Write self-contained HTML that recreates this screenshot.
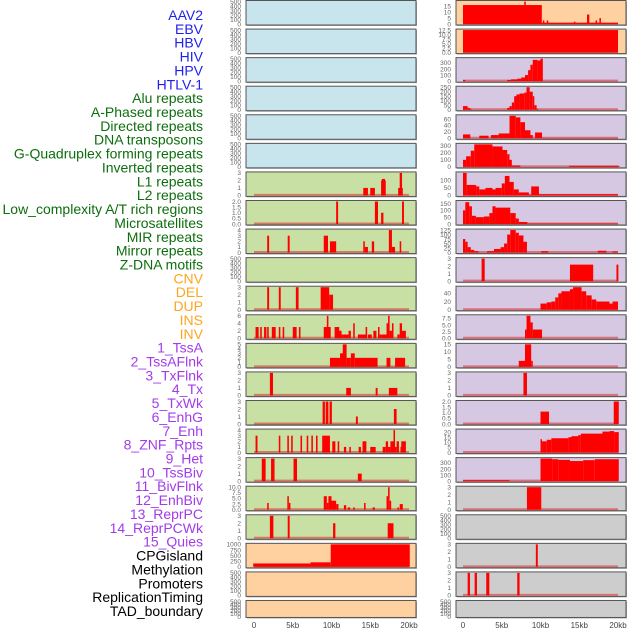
<!DOCTYPE html>
<html><head><meta charset="utf-8">
<style>
html,body{margin:0;padding:0;background:#fff;}
svg{display:block;font-family:"Liberation Sans",sans-serif;}
</style></head>
<body>
<svg id="chart" width="630" height="630" viewBox="0 0 630 630"></svg>
<script>
const labels = ["AAV2","EBV","HBV","HIV","HPV","HTLV-1","Alu repeats","A-Phased repeats","Directed repeats","DNA transposons","G-Quadruplex forming repeats","Inverted repeats","L1 repeats","L2 repeats","Low_complexity A/T rich regions","Microsatellites","MIR repeats","Mirror repeats","Z-DNA motifs","CNV","DEL","DUP","INS","INV","1_TssA","2_TssAFlnk","3_TxFlnk","4_Tx","5_TxWk","6_EnhG","7_Enh","8_ZNF_Rpts","9_Het","10_TssBiv","11_BivFlnk","12_EnhBiv","13_ReprPC","14_ReprPCWk","15_Quies","CPGisland","Methylation","Promoters","ReplicationTiming","TAD_boundary"];
const labelColors = [];
for (let i=0;i<labels.length;i++){labelColors.push(i<6?"#1f1fef":i<19?"#0d6e0d":i<24?"#ffa51f":i<39?"#a23bea":"#000000");}
const xTicks = [0,5,10,15,20];
const xTickLabels = ["0","5kb","10kb","15kb","20kb"];

const leftMax = [500,500,500,500,500,500,3,2,4,500,3,6,5,3,3,4,3,10,3,1000,500,500];
const leftTicks = [
 [0,100,200,300,400,500],[0,100,200,300,400,500],[0,100,200,300,400,500],[0,100,200,300,400,500],[0,100,200,300,400,500],[0,100,200,300,400,500],
 [0,1,2,3],[0,0.5,1,1.5,2],[0,1,2,3,4],[0,100,200,300,400,500],[0,1,2,3],[0,2,4,6],[0,1,2,3,4,5],[0,1,2,3],[0,1,2,3],[0,1,2,3,4],[0,1,2,3],[0,2.5,5,7.5,10],[0,1,2,3],[0,250,500,750,1000],[0,100,200,300,400,500],[0,100,200,300,400,500]];
const leftSegs = [
 [],[],[],[],[],[],
 [[14.1,14.7,1],[15.0,15.6,1],[16.4,17.0,2],[16.5,16.9,2.2],[18.6,19.2,1],[18.8,19.1,3]],
 [[10.6,10.85,2],[15.6,16.0,2],[16.4,16.7,1],[19.1,19.35,2]],
 [[1.7,1.95,3],[4.35,4.6,3],[9.0,9.55,3],[9.8,10.6,2],[14.1,14.3,2],[14.3,14.7,1],[15.2,15.5,2],[17.4,17.8,4],[17.8,18.2,1],[18.8,19.0,2]],
 [],
 [[1.7,1.95,3],[3.2,3.45,3],[5.4,5.75,3],[8.6,9.7,3],[9.7,10.2,2]],
 [[0.2,0.6,3],[0.8,1.0,3],[1.3,1.6,3],[1.7,1.9,3],[2.3,2.8,3],[3.2,3.4,3],[3.7,3.9,3],[5.0,5.5,3],[5.8,6.0,3],[9.0,9.9,3],[9.4,9.6,6],[10.4,11.0,3],[10.9,11.3,2],[11.3,11.6,1],[11.6,12.2,1],[12.2,12.5,2],[12.8,13.0,4],[13.4,14.5,1],[14.4,14.6,3],[14.7,15.2,1],[15.4,15.8,2],[16.0,16.2,3],[16.2,16.5,1],[16.5,17.1,1],[17.1,17.4,4],[17.3,17.5,6],[17.5,17.8,2],[17.8,18.0,4],[18.5,18.8,1],[18.8,19.1,4],[19.0,19.6,2]],
 [[9.8,11.1,2],[11.1,11.5,3],[11.45,11.95,5],[11.95,12.5,2],[12.5,13.0,3],[13.0,15.95,2],[17.1,17.6,2],[18.2,19.5,2]],
 [[2.05,2.45,3],[11.9,12.5,1],[15.7,15.95,1],[17.4,18.5,1]],
 [[8.85,9.15,3],[9.25,9.6,3],[9.75,10.05,3],[13.15,13.4,1],[18.05,18.4,2]],
 [[0.2,0.45,3],[3.2,3.4,3],[4.3,4.5,3],[4.8,5.0,3],[6.0,6.2,3],[6.8,7.0,3],[7.4,7.6,3],[8.0,8.2,3],[8.8,9.8,3],[10.1,10.5,2],[10.8,11.0,2],[11.6,11.9,1],[12.3,12.5,1],[13.5,13.8,1],[14.0,14.5,2],[15.0,15.7,1],[16.6,17.0,1],[17.0,17.3,2],[17.3,17.6,1],[17.6,18.0,2],[18.0,18.2,4],[18.2,18.4,1],[18.4,18.7,2],[18.9,19.0,1],[19.0,19.6,2]],
 [[1.0,1.5,3],[2.2,2.65,3],[5.1,5.55,3],[13.4,13.9,1]],
 [[1.7,1.9,3],[4.3,4.5,6],[4.5,4.7,3],[9.0,9.4,6],[9.4,9.6,3],[9.6,10.0,6],[10.0,10.6,4],[10.6,10.9,2.5],[11.6,11.9,2],[12.1,12.4,1],[12.8,13.0,1],[14.2,14.4,3],[15.3,15.6,1],[17.1,17.3,6],[17.3,17.5,10],[17.5,17.7,4],[18.5,18.7,1],[18.8,19.2,2.5]],
 [[2.05,2.5,3],[4.35,4.6,3],[10.2,10.5,2],[17.25,18.0,2]],
 [[-0.1,7.3,150],[7.3,9.9,200],[9.9,20.1,1000]],
 [],[]];
const leftBg = ["#c8e4ec","#c8e4ec","#c8e4ec","#c8e4ec","#c8e4ec","#c8e4ec","#c8e0a4","#c8e0a4","#c8e0a4","#c8e0a4","#c8e0a4","#c8e0a4","#c8e0a4","#c8e0a4","#c8e0a4","#c8e0a4","#c8e0a4","#c8e0a4","#c8e0a4","#ffd0a0","#ffd0a0","#ffd0a0"];

const rightMax = [19,12.5,370,250,70,320,150,165,125,3,55,8.5,15,3,2,22,370,3,500,3,3,500];
const rightTicks = [
 [0,5,10,15],[0,2.5,5,7.5,10,12.5],[0,100,200,300],[0,50,100,150,200,250],[0,20,40,60],[0,100,200,300],[0,50,100],[0,50,100,150],[0,25,50,75,100,125],[0,1,2,3],[0,20,40],[0,2.5,5,7.5],[0,5,10,15],[0,1,2,3],[0,0.5,1,1.5,2],[0,5,10,15,20],[0,100,200,300],[0,1,2,3],[0,100,200,300,400,500],[0,1,2,3],[0,1,2,3],[0,100,200,300,400,500]];
const rightSegs = [
 [[0,10.17,16],[7.9,8.1,19],[10.17,20,1],[10.3,10.5,3],[10.8,11.0,3],[14.3,14.5,2],[16.0,16.3,8],[17.1,17.3,3],[17.6,17.8,5]],
 [[0,20,12.5]],
 [[0,0.3,20],[5.7,6.2,20],[6.2,7.0,30],[7.0,7.5,40],[7.5,8.0,60],[8.0,8.4,100],[8.4,8.7,180],[8.7,9.0,270],[9.0,9.6,350],[9.6,10.0,340],[10.0,10.3,370]],
 [[0,0.6,40],[0.6,0.9,20],[0.9,1.1,10],[5.7,6.0,20],[6.0,6.3,40],[6.3,6.6,80],[6.6,6.9,150],[6.9,7.3,170],[7.3,7.9,180],[7.9,8.2,190],[8.2,8.6,250],[8.6,9.0,200],[9.0,9.2,150],[9.2,9.5,50],[9.5,9.7,10]],
 [[0,0.94,12],[2.1,3.3,8],[3.6,4.6,10],[4.6,6.0,15],[6.0,6.8,70],[6.8,7.4,65],[7.4,8.0,50],[8.0,8.7,25],[8.7,9.0,10],[9.3,10.2,18],[10.2,20,1]],
 [[0,0.4,100],[0.4,1.0,150],[1.0,1.45,230],[1.45,3.8,320],[3.8,5.1,290],[5.1,5.7,240],[5.7,6.0,180],[6.0,6.3,100],[6.3,7.4,20],[13.7,20.2,15]],
 [[0,0.47,150],[0.47,1.7,70],[1.7,2.1,60],[2.1,2.9,40],[2.9,3.8,50],[3.8,4.2,40],[4.2,5.0,50],[5.0,5.4,80],[5.4,6.0,130],[6.0,6.55,90],[6.55,7.2,40],[7.2,8.5,20],[8.5,8.8,5],[8.8,9.8,60],[9.8,20,8]],
 [[0,0.3,100],[0.3,0.8,160],[0.8,1.15,130],[1.15,1.66,60],[1.66,2.7,50],[2.7,3.4,55],[3.4,3.8,80],[3.8,4.2,130],[4.2,6.1,120],[6.1,6.8,80],[6.8,7.2,40],[7.2,8.3,15],[8.3,20,3]],
 [[0,0.3,75],[0.3,0.6,60],[0.6,1.0,30],[1.0,1.45,15],[1.45,2.0,8],[3.1,4.0,8],[4.0,4.85,20],[4.85,5.3,30],[5.3,5.7,50],[5.7,6.1,100],[6.1,6.8,125],[6.8,7.2,110],[7.2,7.8,95],[7.8,8.25,60],[10.1,11.0,8],[17.4,18.5,10],[19.3,19.96,6]],
 [[2.4,2.8,3],[13.8,16.8,2.2],[19.8,20.05,2.2]],
 [[10.0,10.8,15],[10.8,11.4,18],[11.4,11.9,20],[11.9,12.3,30],[12.3,12.7,40],[12.7,13.8,45],[13.8,14.2,50],[14.2,15.3,55],[15.3,15.9,45],[15.9,16.6,35],[16.6,17.2,25],[17.2,18.9,20],[18.9,19.3,15],[19.3,20,20]],
 [[8.0,8.2,3.3],[8.2,8.7,8.5],[8.7,9.0,6],[9.0,10.2,3.3]],
 [[7.2,8.0,4],[8.0,8.8,15],[8.8,9.0,4]],
 [[7.8,8.25,3]],
 [[10.0,11.1,1.1],[19.45,20.1,2]],
 [[10.0,10.2,13],[10.2,10.8,11],[10.8,11.4,12.5],[11.4,13.6,14],[13.6,14.0,15],[14.0,14.85,16],[14.85,15.2,17],[15.2,18.0,18.5],[18.0,18.9,20.5],[18.9,19.5,21],[19.5,20.1,20]],
 [[0,6.0,15],[10.0,11.5,370],[11.5,12.3,360],[12.3,13.8,350],[13.8,15.5,330],[15.5,17.0,345],[17.0,20.1,360]],
 [[8.25,10.1,3]],
 [],
 [[9.4,9.65,3]],
 [[0.6,0.9,3],[1.5,1.8,3],[3.0,3.4,3],[7.0,7.3,3]],
 []];
const rightBg = ["#ffd0a0","#ffd0a0","#d6c8e2","#d6c8e2","#d6c8e2","#d6c8e2","#d6c8e2","#d6c8e2","#d6c8e2","#d6c8e2","#d6c8e2","#d6c8e2","#d6c8e2","#d6c8e2","#d6c8e2","#d6c8e2","#d6c8e2","#cdcdcd","#cdcdcd","#cdcdcd","#cdcdcd","#cdcdcd"];

const NS="http://www.w3.org/2000/svg";
const svg=document.getElementById('chart');
function mk(tag,attrs,parent){const e=document.createElementNS(NS,tag);for(const k in attrs)e.setAttribute(k,attrs[k]);(parent||svg).appendChild(e);return e;}

labels.forEach((t,i)=>{
  const e=mk('text',{x:203,y:15+i*13.86+5,'text-anchor':'end','font-size':14,fill:labelColors[i]});
  
  
  e.textContent=t;
});

function rowTop(r){return r*28.57;}
function rowH(r){return r===21?17:24.5;}

function drawCol(side,x0,x1,zeroX,maxArr,ticksArr,segsArr,bgArr){
  const kbX=kb=>zeroX+kb*7.75;
  for(let r=0;r<22;r++){
    const top=rowTop(r)+0.5, h=rowH(r), bot=top+h;
    const g=mk('g',{});
    
    
    mk('rect',{x:x0+1,y:top+1,width:x1-x0,height:h,fill:'#aaa'},g);
    mk('rect',{x:x0,y:top,width:x1-x0,height:h,fill:bgArr[r],stroke:'#555','stroke-width':1},g);
    const yS=v=>bot-1-(v/maxArr[r])*(h-2);
    const frac=ticksArr[r].some(v=>v%1!==0);
    ticksArr[r].forEach(tv=>{
      const t=mk('text',{x:x0-5,y:yS(tv)+2.3,'text-anchor':'end','font-size':6.5,fill:'#666'},g);
      
      
      t.textContent=frac?tv.toFixed(1):String(tv);
    });
    const segs=segsArr[r];
    if(segs.length){
      const bl=mk('line',{x1:kbX(0),x2:kbX(20),y1:bot-1.5,y2:bot-1.5,stroke:'rgba(220,40,40,0.55)','stroke-width':2},g);
      
      
      segs.forEach(s=>{
        const y=yS(s[2]);
        const b=mk('rect',{x:kbX(s[0]),y:y,width:Math.max(1,kbX(s[1])-kbX(s[0])),height:bot-1-y,fill:'#ff0000'},g);
        
        
      });
    }
  }
  xTicks.forEach((kb,i)=>{
    const t=mk('text',{x:kbX(kb),y:628,'text-anchor':'middle','font-size':8,fill:'#444'});
    
    
    t.textContent=xTickLabels[i];
  });
}
drawCol('left',246,416,254,leftMax,leftTicks,leftSegs,leftBg);
drawCol('right',456,626,463,rightMax,rightTicks,rightSegs,rightBg);
</script>
</body></html>
